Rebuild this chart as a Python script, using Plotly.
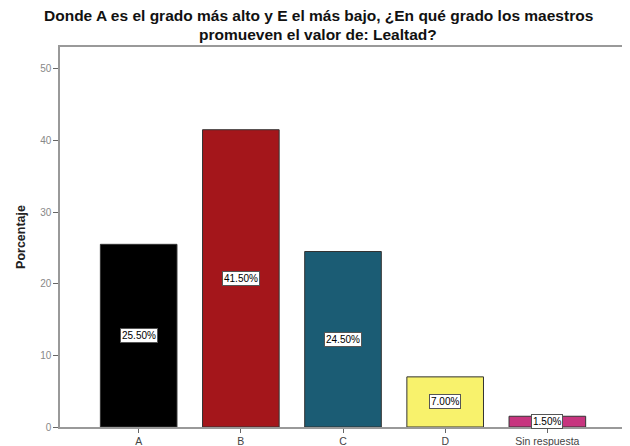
import plotly.graph_objects as go

categories = ["A", "B", "C", "D", "Sin respuesta"]
values = [25.5, 41.5, 24.5, 7.0, 1.5]
labels = ["25.50%", "41.50%", "24.50%", "7.00%", "1.50%"]
colors = ["#000000", "#a4161b", "#1b5c74", "#f8f26c", "#c7357f"]
yticks = [0, 10, 20, 30, 40, 50]
title_lines = ["Donde A es el grado más alto y E el más bajo, ¿En qué grado los maestros",
               "promueven el valor de: Lealtad?"]

fig = go.Figure()
fig.add_trace(go.Bar(
    x=list(range(len(categories))), y=values,
    marker=dict(color=colors, line=dict(color="#333333", width=1)),
    width=0.75, hoverinfo="skip",
))
for i, (v, t) in enumerate(zip(values, labels)):
    fig.add_annotation(x=i, y=v / 2, text=t, showarrow=False,
                       font=dict(family="Liberation Sans Narrow, Arial", size=10, color="#000000"),
                       bgcolor="#ffffff", bordercolor="#555555", borderwidth=1, borderpad=1)

for yy, line in zip([1.0842, 1.0342], title_lines):
    fig.add_annotation(xref="paper", yref="paper", x=0.457, y=yy, text="<b>" + line + "</b>",
                       showarrow=False, xanchor="center", yanchor="middle",
                       font=dict(family="Arial", size=15.5, color="#111111"))

# the page body adds an 8px offset, so margins are shifted to compensate
fig.update_layout(
    width=630, height=446,
    margin=dict(l=52, r=13, t=39, b=27, autoexpand=False),
    paper_bgcolor="#ffffff", plot_bgcolor="#ffffff",
    showlegend=False,
)
fig.update_xaxes(
    range=[-0.77, 4.76], tickmode="array", tickvals=list(range(len(categories))),
    ticktext=categories, ticks="outside", ticklen=4, tickcolor="#666666",
    showline=True, linecolor="#999999", linewidth=1.5, mirror=True, showgrid=False,
    tickfont=dict(family="Arial", size=10.5, color="#444444"), zeroline=False, automargin=False,
)
fig.update_yaxes(
    range=[0, 53.05], tickvals=yticks, ticks="outside", ticklen=5, tickcolor="#666666",
    showline=True, linecolor="#999999", linewidth=1.5, mirror=True, showgrid=False,
    tickfont=dict(family="Arial", size=10, color="#888888"), zeroline=False, automargin=False,
    title=dict(text="<b>Porcentaje</b>", font=dict(family="Arial", size=12.5, color="#222222"), standoff=12),
)
fig.write_html("out.html")
